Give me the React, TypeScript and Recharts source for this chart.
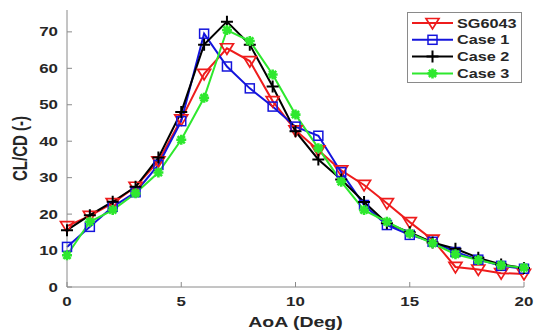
import React from 'react';
import { LineChart, Line, XAxis, YAxis, Legend } from 'recharts';

const aoa = [0, 1, 2, 3, 4, 5, 6, 7, 8, 9, 10, 11, 12, 13, 14, 15, 16, 17, 18, 19, 20];
const sg6043 = [16.7, 19.5, 23, 27.5, 34.5, 46, 58.5, 65.5, 62, 51, 43, 37.5, 32, 28, 23, 17.8, 13, 5.5, 4.8, 3.8, 3.6];
const case1 = [11, 16.5, 22, 26, 33.5, 45.5, 69.5, 60.5, 54.5, 49.5, 44, 41.5, 31.5, 22.5, 17, 14.3, 12.4, 9.6, 7.5, 5.8, 5];
const case2 = [15.6, 19.7, 23.4, 27.5, 35.5, 48, 66.5, 72.8, 66.5, 55, 42.7, 35, 29.5, 23.3, 17.5, 15, 12.2, 10.5, 8, 6.2, 5.2];
const case3 = [8.7, 17.9, 21.1, 25.7, 31.4, 40.4, 51.9, 70.5, 67.5, 58.3, 47.3, 38.1, 28.9, 21.1, 17.9, 14.7, 12, 9, 7.4, 6, 5.3];

const xTicks = [0, 5, 10, 15, 20];
const yTicks = [0, 10, 20, 30, 40, 50, 60, 70];

const series = [
  { key: 'sg', name: 'SG6043', color: '#ee1c1c', marker: 'tri' },
  { key: 'c1', name: 'Case 1', color: '#1414dc', marker: 'sq' },
  { key: 'c2', name: 'Case 2', color: '#000000', marker: 'plus' },
  { key: 'c3', name: 'Case 3', color: '#2ee82e', marker: 'star' },
];

const data = aoa.map((a, i) => ({ aoa: a, sg: sg6043[i], c1: case1[i], c2: case2[i], c3: case3[i] }));

const AXIS = '#8a8a8a';
const TXT = '#262626';
const FONT = '"Liberation Sans", Arial, sans-serif';

function Marker({ kind, cx, cy, color }: any) {
  if (cx == null || cy == null) return null;
  switch (kind) {
    case 'tri':
      return (
        <path d={`M${cx - 6.5},${cy - 4.5} L${cx + 6.5},${cy - 4.5} L${cx},${cy + 6} Z`}
          fill="none" stroke={color} strokeWidth={1.7} />
      );
    case 'sq':
      return <rect x={cx - 4.5} y={cy - 4.5} width={9} height={9} fill="none" stroke={color} strokeWidth={1.5} />;
    case 'plus':
      return (
        <path d={`M${cx - 6},${cy} H${cx + 6} M${cx},${cy - 6} V${cy + 6}`} stroke={color} strokeWidth={2} />
      );
    default:
      return (
        <path
          d={`M${cx - 5},${cy} H${cx + 5} M${cx},${cy - 5} V${cy + 5} M${cx - 3.6},${cy - 3.6} L${cx + 3.6},${cy + 3.6} M${cx - 3.6},${cy + 3.6} L${cx + 3.6},${cy - 3.6}`}
          stroke={color} strokeWidth={2.6} />
      );
  }
}

const XTick = ({ x, y, payload }: any) => (
  <g transform={`translate(${x},${y})`}>
    <text transform="scale(1.3,1)" textAnchor="middle" dy={19.5} fontSize={13} fontWeight="bold"
      fontFamily={FONT} fill={TXT}>{payload.value}</text>
  </g>
);

const YTick = ({ x, y, payload }: any) => (
  <g transform={`translate(${x - 9},${y})`}>
    <text transform="scale(1.3,1)" textAnchor="end" dy={4.6} fontSize={13} fontWeight="bold"
      fontFamily={FONT} fill={TXT}>{payload.value}</text>
  </g>
);

const renderLegend = () => (
  <svg width={115} height={71}>
    <rect x={0.5} y={0.5} width={114} height={70} fill="#fff" stroke={AXIS} strokeWidth={1} />
    {series.map((s, i) => {
      const y = 11 + i * 16.8;
      return (
        <g key={s.key}>
          <line x1={5} x2={46} y1={y} y2={y} stroke={s.color} strokeWidth={2} />
          <Marker kind={s.marker} cx={25.5} cy={y} color={s.color} />
          <g transform={`translate(50,${y})`}>
            <text transform="scale(1.25,1)" dy={4.6} fontSize={13} fontWeight="bold" fontFamily={FONT} fill={TXT}>
              {s.name}
            </text>
          </g>
        </g>
      );
    })}
  </svg>
);

export default function App() {
  return (
    <div style={{ width: 535, height: 335, background: '#fff' }}>
      <style>{'body{margin:0}'}</style>
      <LineChart width={535} height={335} data={data} margin={{ top: 10, right: 11, bottom: 0, left: 0 }}>
        <XAxis dataKey="aoa" type="number" domain={[0, 20]} ticks={xTicks} height={48}
          stroke={AXIS} tickSize={-5} tickMargin={5} tick={<XTick />}
          label={{
            content: (p: any) => {
              const vb = p.viewBox;
              return (
                <g transform={`translate(${vb.x + vb.width / 2},${vb.y + 40})`}>
                  <text transform="scale(1.3,1)" textAnchor="middle" fontSize={15} fontWeight="bold"
                    fontFamily={FONT} fill={TXT}>AoA (Deg)</text>
                </g>
              );
            },
          }} />
        <XAxis xAxisId="top" orientation="top" dataKey="aoa" type="number" domain={[0, 20]} ticks={xTicks}
          height={0} stroke={AXIS} tickSize={-5} tick={false} />
        <YAxis type="number" domain={[0, 76]} ticks={yTicks} width={67} stroke={AXIS}
          tickSize={-5} tickMargin={5} tick={<YTick />}
          label={{
            content: (p: any) => {
              const vb = p.viewBox;
              return (
                <g transform={`translate(22,${vb.y + vb.height / 2}) rotate(-90)`}>
                  <text transform="scale(1,1.3)" textAnchor="middle" dy={4.2} fontSize={15} fontWeight="bold"
                    fontFamily={FONT} fill={TXT}>CL/CD (-)</text>
                </g>
              );
            },
          }} />
        <YAxis yAxisId="right" orientation="right" type="number" domain={[0, 76]} ticks={yTicks} width={0}
          stroke={AXIS} tickSize={-5} tick={false} />
        <Legend layout="vertical" align="center" verticalAlign="middle" content={renderLegend}
          wrapperStyle={{ position: 'absolute', left: 407, top: 12, width: 115, height: 71 }} />
        {series.map((s) => (
          <Line key={s.key} dataKey={s.key} name={s.name} stroke={s.color} strokeWidth={2}
            isAnimationActive={false} legendType="none"
            dot={(p: any) => <Marker key={`${s.key}-${p.index}`} kind={s.marker} cx={p.cx} cy={p.cy} color={s.color} />}
            activeDot={false} />
        ))}
      </LineChart>
    </div>
  );
}
